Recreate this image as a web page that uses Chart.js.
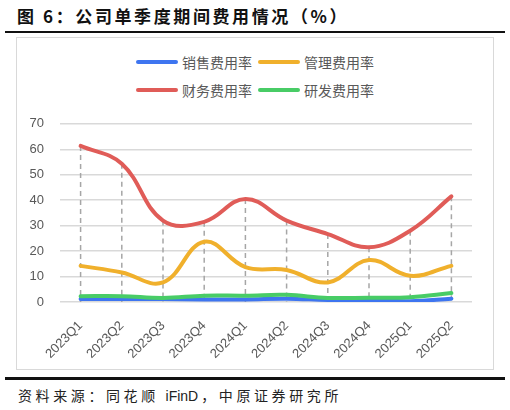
<!DOCTYPE html>
<html>
<head>
<meta charset="utf-8">
<script src="https://cdn.jsdelivr.net/npm/chart.js@4.4.1/dist/chart.umd.min.js"></script>
<style>
  body { margin: 0; width: 510px; height: 410px; background: #fff; position: relative; overflow: hidden;
         font-family: "Noto Sans CJK SC", "Liberation Sans", sans-serif; }
  #title { position: absolute; left: 17px; top: 3px; font-size: 17px; font-weight: bold; color: #111;
           letter-spacing: 2.6px; white-space: nowrap; }
  .rule { position: absolute; left: 5px; width: 500px; background: #111; }
  #box { position: absolute; left: 16px; top: 37px; width: 476px; height: 331px; border: 1px solid #d9d9d9; }
  #legend { position: absolute; left: 0; top: 10px; width: 476px; }
  .row { display: flex; justify-content: center; height: 28px; align-items: center; }
  .item { display: flex; align-items: center; margin: 0 3px; font-size: 14px; color: #595959; }
  .swatch { width: 42px; height: 4px; border-radius: 2px; margin-right: 4px; }
  #wrap { position: absolute; left: 0; top: 62px; width: 476px; height: 268px; }
  #source { position: absolute; left: 18px; top: 385px; font-size: 14px; color: #222; letter-spacing: 3.6px; white-space: nowrap; }
  #source span { letter-spacing: 0; font-family: "Liberation Sans", sans-serif; margin-right: 3px; }
</style>
</head>
<body>
<div id="title">图 6：公司单季度期间费用情况（%）</div>
<div class="rule" style="top:31px;height:2px"></div>
<div id="box">
  <div id="legend"></div>
  <div id="wrap"><canvas id="c"></canvas></div>
</div>
<div class="rule" style="top:377px;height:3px"></div>
<div id="source">资料来源：同花顺 <span>iFinD</span>，中原证券研究所</div>
<script>
var categories = ["2023Q1", "2023Q2", "2023Q3", "2023Q4", "2024Q1", "2024Q2", "2024Q3", "2024Q4", "2025Q1", "2025Q2"];
var salesRate   = [1.2, 1.2, 1.2, 1.0, 1.0, 1.3, 0.8, 0.7, 0.3, 1.3];
var manageRate  = [14.2, 11.6, 7.7, 23.7, 13.7, 12.6, 7.7, 16.5, 10.3, 14.2];
var financeRate = [61.3, 54.3, 32.0, 31.5, 40.5, 32.0, 26.7, 21.5, 28.0, 41.5];
var rdRate      = [2.3, 2.3, 1.6, 2.5, 2.5, 2.8, 1.6, 1.7, 1.9, 3.5];
var yTicks = [0, 10, 20, 30, 40, 50, 60, 70];

var series = [
  { label: "销售费用率", data: salesRate,   color: "#3e75f0", order: 4 },
  { label: "管理费用率", data: manageRate,  color: "#f0b02c", order: 3 },
  { label: "财务费用率", data: financeRate, color: "#e05c58", order: 2 },
  { label: "研发费用率", data: rdRate,      color: "#48cc66", order: 1 }
];

// legend, two per row like the original
var legend = document.getElementById("legend");
[[0, 1], [2, 3]].forEach(function (pair) {
  var row = document.createElement("div");
  row.className = "row";
  pair.forEach(function (i) {
    var item = document.createElement("div");
    item.className = "item";
    var sw = document.createElement("div");
    sw.className = "swatch";
    sw.style.background = series[i].color;
    item.appendChild(sw);
    item.appendChild(document.createTextNode(series[i].label));
    row.appendChild(item);
  });
  legend.appendChild(row);
});

// dashed drop lines from the highest point of each category down to the axis
var dropLines = {
  id: "dropLines",
  beforeDatasetsDraw: function (chart) {
    var ctx = chart.ctx, x = chart.scales.x, y = chart.scales.y;
    ctx.save();
    ctx.strokeStyle = "#a6a6a6";
    ctx.lineWidth = 1.5;
    ctx.setLineDash([5, 4]);
    categories.forEach(function (c, i) {
      var top = Math.max(salesRate[i], manageRate[i], financeRate[i], rdRate[i]);
      var px = x.getPixelForValue(i);
      ctx.beginPath();
      ctx.moveTo(px, y.getPixelForValue(top));
      ctx.lineTo(px, y.getPixelForValue(0));
      ctx.stroke();
    });
    ctx.restore();
  }
};

new Chart(document.getElementById("c"), {
  type: "line",
  data: {
    labels: categories,
    datasets: series.map(function (s) {
      return {
        label: s.label,
        data: s.data,
        borderColor: s.color,
        backgroundColor: s.color,
        borderWidth: 4,
        borderCapStyle: "round",
        pointRadius: 0,
        tension: 0.4,
        order: s.order
      };
    })
  },
  options: {
    responsive: true,
    maintainAspectRatio: false,
    animation: false,
    layout: { padding: { top: 23, right: 21, left: 0, bottom: 0 } },
    plugins: { legend: { display: false }, tooltip: { enabled: false } },
    scales: {
      x: {
        offset: true,
        grid: { display: false },
        border: { display: false },
        ticks: { color: "#595959", font: { size: 13, family: "Liberation Sans" }, minRotation: 45, maxRotation: 45, padding: 8 },
        afterFit: function (s) { s.height = 66; }
      },
      y: {
        min: 0, max: 70,
        afterBuildTicks: function (s) { s.ticks = yTicks.map(function (v) { return { value: v }; }); },
        grid: { color: "#d9d9d9", lineWidth: 1.5, drawTicks: false },
        border: { display: false },
        ticks: { color: "#595959", font: { size: 13, family: "Liberation Sans" }, padding: 16 },
        afterFit: function (s) { s.width = 43; }
      }
    }
  },
  plugins: [dropLines]
});
</script>
</body>
</html>
